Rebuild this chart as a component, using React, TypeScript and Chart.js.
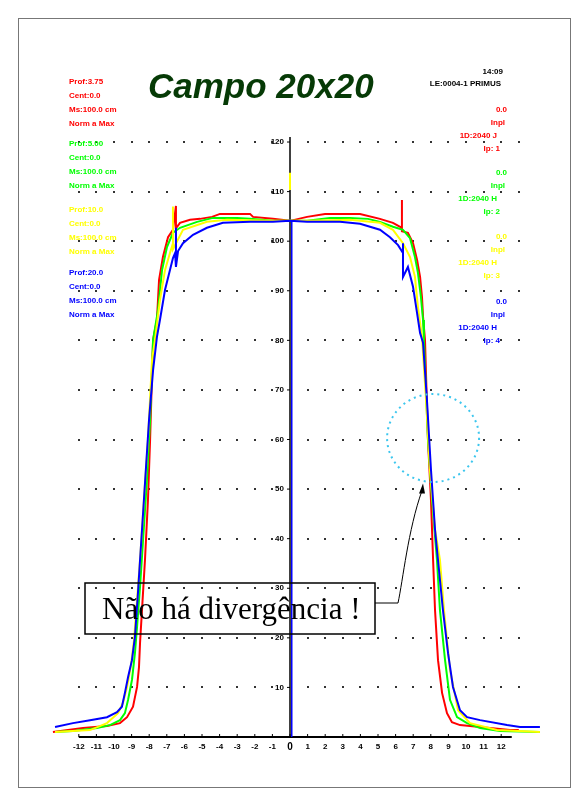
import React, { useEffect, useRef } from "react";
import { Chart, registerables } from "chart.js";

Chart.register(...registerables);

// ---- data (x: off-axis distance, y: relative dose %) ----
const xTicks = [-12, -11, -10, -9, -8, -7, -6, -5, -4, -3, -2, -1, 0, 1, 2, 3, 4, 5, 6, 7, 8, 9, 10, 11, 12];
const xDots = [-12, -11, -10, -9, -8, -7, -6, -5, -4, -3, -2, -1, 1, 2, 3, 4, 5, 6, 7, 8, 9, 10, 11, 12, 13];
const yTicks = [10, 20, 30, 40, 50, 60, 70, 80, 90, 100, 110, 120];

const redX = [-13.47, -11.76, -10.4, -9.66, -9.26, -8.92, -8.69, -8.58, -8.52, -8.41, -8.24, -8.07, -7.95, -7.78, -7.56, -7.44, -7.22, -6.93, -6.65, -6.48, -6.48, -6.48, -6.25, -5.68, -5.11, -4.43, -3.98, -2.27, -2.1, -0.97, 0, 0.97, 1.99, 3.98, 5.11, 5.85, 6.36, 6.36, 6.36, 6.7, 6.99, 7.22, 7.39, 7.5, 7.56, 7.67, 7.84, 8.01, 8.13, 8.24, 8.41, 8.64, 8.92, 9.2, 9.66, 10.8, 11.36, 12.5, 13.0];
const redY = [1.0, 1.8, 2.2, 2.8, 4.0, 6.1, 10.1, 14.1, 19.0, 25.6, 35.7, 47.8, 59.9, 80.1, 84.1, 92.2, 96.8, 100.8, 102.3, 107.1, 98.8, 102.6, 103.7, 104.3, 104.5, 104.9, 105.5, 105.5, 104.9, 104.5, 104.1, 104.9, 105.5, 105.5, 104.5, 103.7, 102.7, 108.3, 102.0, 101.7, 99.6, 96.2, 92.8, 88.7, 84.7, 80.1, 59.9, 47.8, 35.7, 25.6, 15.5, 8.9, 4.8, 3.0, 2.4, 2.0, 1.8, 1.4, 1.4];

const greenX = [-13.35, -12.33, -10.97, -10.23, -9.66, -9.38, -9.2, -8.98, -8.81, -8.69, -8.52, -8.35, -8.13, -7.95, -7.78, -7.5, -7.27, -6.99, -6.65, -6.25, -5.28, -4.38, -3.01, -2.27, -0.97, 0, 0.97, 2.27, 3.41, 4.43, 5.11, 5.85, 6.42, 6.82, 7.1, 7.27, 7.44, 7.56, 7.61, 7.84, 8.07, 8.35, 8.52, 8.81, 9.09, 9.49, 10.06, 10.8, 11.93, 14.2];
const greenY = [1.0, 1.2, 1.8, 2.4, 3.4, 4.8, 7.5, 11.5, 16.9, 22.2, 30.3, 39.7, 51.8, 63.9, 80.1, 86.1, 94.2, 98.8, 101.7, 102.7, 103.9, 104.7, 104.7, 104.5, 104.1, 104.1, 104.1, 104.7, 104.7, 104.5, 103.9, 102.9, 102.3, 100.6, 96.8, 93.6, 88.7, 84.1, 80.1, 59.9, 47.8, 35.7, 25.6, 15.5, 7.5, 4.0, 2.8, 1.8, 1.2, 1.0];

const yellowX = [-13.35, -11.36, -10.4, -9.77, -9.49, -9.26, -9.03, -8.86, -8.69, -8.52, -8.3, -8.07, -7.84, -7.67, -7.39, -7.1, -6.82, -6.65, -6.65, -6.65, -6.08, -4.72, -3.58, -0.97, 0, 0.97, 3.41, 4.55, 5.11, 5.85, 6.42, 6.82, 7.1, 7.27, 7.5, 7.73, 7.95, 8.24, 8.52, 8.75, 9.09, 9.55, 10.23, 11.76, 14.2];
const yellowY = [1.0, 1.4, 2.8, 4.8, 6.9, 10.1, 14.5, 19.6, 27.6, 35.7, 47.8, 59.9, 76.0, 80.1, 88.1, 94.2, 97.6, 99.6, 107.0, 98.4, 102.3, 103.9, 104.3, 104.1, 104.1, 104.1, 104.3, 103.9, 103.7, 102.3, 99.6, 96.8, 92.8, 86.7, 80.7, 68.0, 53.9, 41.8, 35.7, 25.6, 13.5, 5.4, 2.8, 1.4, 1.0];

const blueX = [-13.35, -12.33, -11.36, -10.4, -9.83, -9.55, -9.38, -9.2, -8.98, -8.81, -8.64, -8.52, -8.3, -8.01, -7.78, -7.56, -7.39, -7.1, -6.82, -6.65, -6.53, -6.48, -6.48, -6.36, -6.08, -5.51, -4.72, -3.81, -2.27, -0.97, 0, 0.97, 2.84, 3.98, 5.11, 5.68, 6.14, 6.42, 6.42, 6.42, 6.7, 6.99, 7.22, 7.39, 7.56, 7.78, 8.01, 8.24, 8.41, 8.69, 8.98, 9.26, 9.66, 10.06, 10.8, 12.33, 13.07, 14.2];
const blueY = [2.0, 2.8, 3.4, 4.0, 5.0, 6.1, 8.9, 12.1, 15.5, 20.2, 29.0, 35.7, 47.8, 63.9, 74.0, 80.7, 84.1, 90.2, 94.2, 96.6, 97.6, 102.7, 94.8, 98.0, 99.6, 101.3, 102.7, 103.7, 103.9, 103.9, 104.1, 103.9, 103.9, 103.5, 102.3, 100.8, 99.2, 97.6, 99.6, 92.8, 94.8, 90.8, 85.5, 81.5, 79.5, 68.0, 53.9, 41.8, 35.7, 25.6, 16.9, 10.1, 5.4, 4.0, 3.4, 2.4, 2.0, 2.0];

const centerBlueX = [0.1, 0.1];
const centerBlueY = [0, 104.1];
const centerYellowX = [0, 0];
const centerYellowY = [110.3, 113.8];

const leftLegend = [
  { color: "#ff0000", lines: ["Prof:3.75", "Cent:0.0", "Ms:100.0 cm", "Norm a Max"] },
  { color: "#00ff00", lines: ["Prof:5.00", "Cent:0.0", "Ms:100.0 cm", "Norm a Max"] },
  { color: "#ffff00", lines: ["Prof:10.0", "Cent:0.0", "Ms:100.0 cm", "Norm a Max"] },
  { color: "#0000ff", lines: ["Prof:20.0", "Cent:0.0", "Ms:100.0 cm", "Norm a Max"] },
];
const rightLegend = [
  { color: "#ff0000", lines: ["0.0", "Inpl", "1D:2040 J", "Ip: 1"] },
  { color: "#00ff00", lines: ["0.0", "Inpl", "1D:2040 H", "Ip: 2"] },
  { color: "#ffff00", lines: ["0.0", "Inpl", "1D:2040 H", "Ip: 3"] },
  { color: "#0000ff", lines: ["0.0", "Inpl", "1D:2040 H", "Ip: 4"] },
];
const headerLines = ["14:09", "LE:0004-1 PRIMUS"];
const titleText = "Campo 20x20";
const noteText = "Não há divergência !";

const pts = (xs: number[], ys: number[]) =>
  xs.slice(0, Math.min(xs.length, ys.length)).map((x, i) => ({ x, y: ys[i] }));

const decor = {
  id: "decor",
  beforeDatasetsDraw(chart: any) {
    const ctx = chart.ctx;
    const xs = chart.scales.x;
    const ys = chart.scales.y;
    ctx.save();
    // dotted grid
    ctx.fillStyle = "#333";
    for (const yv of yTicks) {
      for (const xv of xDots) {
        const px = Math.round(xs.getPixelForValue(xv));
        const py = Math.round(ys.getPixelForValue(yv));
        ctx.fillRect(px - 1, py - 1, 2, 2);
      }
    }
    // x axis
    const y0 = ys.getPixelForValue(0);
    ctx.strokeStyle = "#000";
    ctx.lineWidth = 2;
    ctx.beginPath();
    ctx.moveTo(xs.getPixelForValue(-12), y0);
    ctx.lineTo(xs.getPixelForValue(12.6), y0);
    ctx.stroke();
    ctx.lineWidth = 1;
    ctx.fillStyle = "#000";
    ctx.textAlign = "center";
    ctx.textBaseline = "middle";
    for (const t of xTicks) {
      const px = xs.getPixelForValue(t);
      ctx.beginPath();
      ctx.moveTo(px, y0);
      ctx.lineTo(px, y0 - 3);
      ctx.stroke();
      ctx.font = t === 0 ? 'bold 10px "Liberation Sans", Arial' : 'bold 8px "Liberation Sans", Arial';
      ctx.fillText(String(t), px, y0 + 10);
    }
    // y axis (centre)
    const xc = xs.getPixelForValue(0);
    ctx.lineWidth = 1.5;
    ctx.beginPath();
    ctx.moveTo(xc, y0);
    ctx.lineTo(xc, ys.getPixelForValue(121));
    ctx.stroke();
    ctx.lineWidth = 1;
    ctx.textAlign = "right";
    ctx.font = 'bold 8px "Liberation Sans", Arial';
    for (const t of yTicks) {
      const py = ys.getPixelForValue(t);
      ctx.beginPath();
      ctx.moveTo(xc, py);
      ctx.lineTo(xc - 3, py);
      ctx.stroke();
      ctx.fillText(String(t), xc - 6, py);
    }
    ctx.restore();
  },
  afterDatasetsDraw(chart: any) {
    const ctx = chart.ctx;
    const xs = chart.scales.x;
    const ys = chart.scales.y;
    ctx.save();
    // page frame
    ctx.strokeStyle = "#777";
    ctx.lineWidth = 1;
    ctx.strokeRect(18.5, 18.5, 552, 769);
    // title
    ctx.fillStyle = "#063a06";
    ctx.font = 'italic bold 35px "Liberation Sans", Arial';
    ctx.textAlign = "left";
    ctx.textBaseline = "alphabetic";
    ctx.fillText(titleText, 148, 98);
    // header
    ctx.fillStyle = "#000";
    ctx.font = 'bold 8px "Liberation Sans", Arial';
    ctx.textAlign = "right";
    ctx.textBaseline = "middle";
    ctx.fillText(headerLines[0], 503, 72);
    ctx.fillText(headerLines[1], 501, 84);
    // left legend
    const leftTops = [82, 144, 210, 273];
    ctx.textAlign = "left";
    leftLegend.forEach((b, i) => {
      ctx.fillStyle = b.color;
      b.lines.forEach((l, j) => ctx.fillText(l, 69, leftTops[i] + j * 14));
    });
    // right legend
    const rightTops = [110, 173, 237, 302];
    const rightX = [507, 505, 497, 500];
    ctx.textAlign = "right";
    rightLegend.forEach((b, i) => {
      ctx.fillStyle = b.color;
      b.lines.forEach((l, j) => ctx.fillText(l, rightX[j], rightTops[i] + j * 13));
    });
    // dotted cyan circle
    ctx.strokeStyle = "#3cc6ee";
    ctx.lineWidth = 2;
    ctx.setLineDash([2, 4]);
    ctx.beginPath();
    ctx.ellipse(xs.getPixelForValue(8.13), ys.getPixelForValue(60.3), 46, 44, 0, 0, Math.PI * 2);
    ctx.stroke();
    ctx.setLineDash([]);
    // note box
    ctx.strokeStyle = "#000";
    ctx.lineWidth = 1.5;
    ctx.strokeRect(85, 583, 290, 51);
    ctx.fillStyle = "#000";
    ctx.font = '31px "Liberation Serif", "Times New Roman", serif';
    ctx.textAlign = "left";
    ctx.textBaseline = "alphabetic";
    ctx.fillText(noteText, 102, 619);
    // arrow
    const tipX = xs.getPixelForValue(7.5);
    const tipY = ys.getPixelForValue(50.5);
    ctx.lineWidth = 1;
    ctx.beginPath();
    ctx.moveTo(375, 603);
    ctx.lineTo(398, 603);
    ctx.bezierCurveTo(403, 580, 408, 530, tipX, tipY + 4);
    ctx.stroke();
    ctx.beginPath();
    ctx.moveTo(tipX + 1, tipY - 3);
    ctx.lineTo(tipX - 3, tipY + 7);
    ctx.lineTo(tipX + 3, tipY + 7);
    ctx.closePath();
    ctx.fill();
    ctx.restore();
  },
};

export default function App() {
  const ref = useRef<HTMLCanvasElement | null>(null);
  useEffect(() => {
    if (!ref.current) return;
    const mk = (label: string, xs: number[], ys: number[], color: string, order: number, width = 2) => ({
      label,
      data: pts(xs, ys),
      showLine: true,
      borderColor: color,
      backgroundColor: color,
      borderWidth: width,
      pointRadius: 0,
      tension: 0,
      fill: false,
      clip: false as any,
      order,
    });
    const chart = new Chart(ref.current, {
      type: "scatter",
      data: {
        datasets: [
          mk("Centro", centerBlueX, centerBlueY, "#0000ff", 0, 1.5),
          mk("Centro amarelo", centerYellowX, centerYellowY, "#ffff00", 0, 2),
          mk("Prof 20", blueX, blueY, "#0000ff", 1),
          mk("Prof 10", yellowX, yellowY, "#ffff00", 2),
          mk("Prof 5", greenX, greenY, "#00ff00", 3),
          mk("Prof 3.75", redX, redY, "#ff0000", 4),
        ],
      },
      options: {
        responsive: false,
        animation: false,
        layout: { padding: { left: 43.6, right: 35.8, top: 132.1, bottom: 68 } },
        scales: {
          x: { type: "linear", min: -14, max: 14.5, display: false },
          y: { type: "linear", min: 0, max: 122, display: false },
        },
        plugins: { legend: { display: false }, tooltip: { enabled: false }, title: { display: false } },
        elements: { point: { radius: 0 } },
      },
      plugins: [decor],
    } as any);
    return () => chart.destroy();
  }, []);
  return (
    <div style={{ position: "fixed", left: 0, top: 0, width: 581, height: 805, background: "#fff" }}>
      <canvas ref={ref} width={581} height={805} style={{ display: "block" }} />
    </div>
  );
}
